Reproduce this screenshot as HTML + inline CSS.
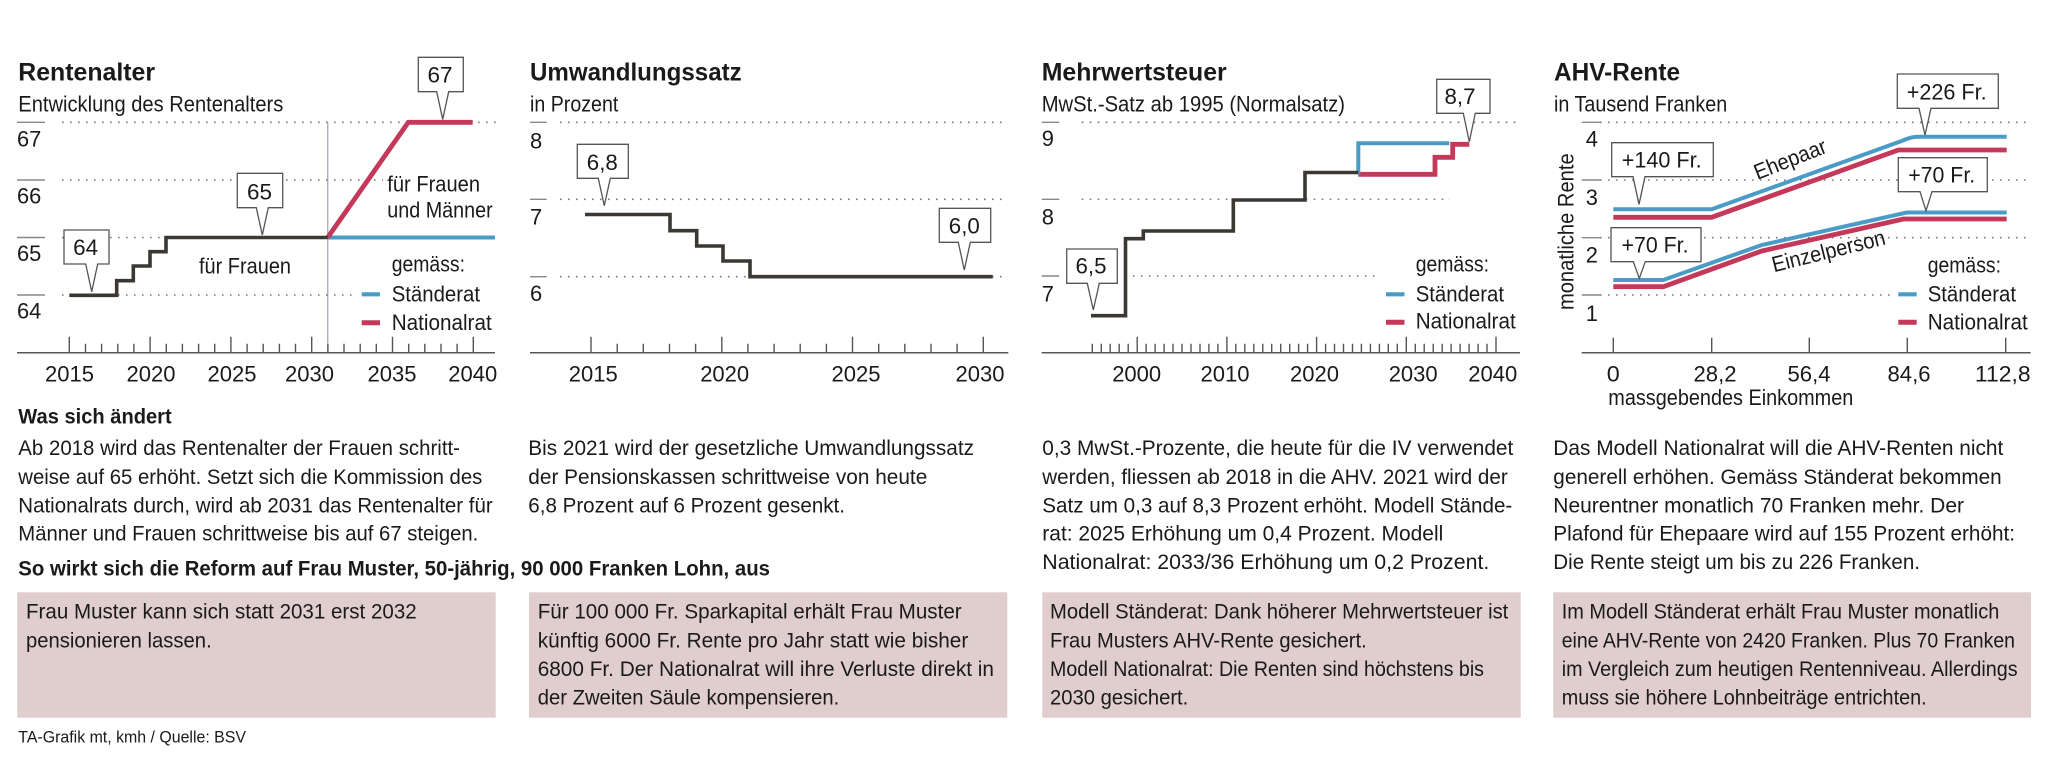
<!DOCTYPE html>
<html><head><meta charset="utf-8"><style>
html,body{margin:0;padding:0;background:#fff;}
svg{display:block;}
text{font-family:"Liberation Sans",sans-serif;fill:#1a1a1a;}
.ti{font-size:25px;font-weight:bold;}
.st{font-size:22px;}
.ax{font-size:22px;}
.cl{font-size:22px;}
.lg{font-size:22px;}
.p{font-size:21px;}
.b{font-size:21px;font-weight:bold;}
.dot{stroke:#7a7a7a;stroke-width:1.6;stroke-dasharray:1.6 6.4;fill:none;}
.yt{stroke:#888;stroke-width:1.4;}
.axl{stroke:#555;stroke-width:1.5;}
.tk{stroke:#555;stroke-width:1.4;fill:none;}
.blk{stroke:#3b3833;stroke-width:3.6;fill:none;stroke-linejoin:miter;}
.red{stroke:#c4385a;stroke-width:4.8;fill:none;}
.blu{stroke:#4a9cc7;stroke-width:4;fill:none;}
.call{fill:#fff;stroke:#555;stroke-width:1.3;}
.box{fill:#e0cdcd;}
</style></head><body>
<svg width="2048" height="764" viewBox="0 0 2048 764" xmlns="http://www.w3.org/2000/svg">
<rect width="2048" height="764" fill="#fff"/>

<!-- ===== Panel 1: Rentenalter ===== -->
<text class="ti" x="18.3" y="80.7" textLength="136.7" lengthAdjust="spacingAndGlyphs">Rentenalter</text>
<text class="st" x="18.3" y="111.7" textLength="265" lengthAdjust="spacingAndGlyphs">Entwicklung des Rentenalters</text>

<line class="yt" x1="17" y1="122.3" x2="45" y2="122.3"/>
<line class="yt" x1="17" y1="180" x2="45" y2="180"/>
<line class="yt" x1="17" y1="237.5" x2="45" y2="237.5"/>
<line class="yt" x1="17" y1="295" x2="45" y2="295"/>
<line class="dot" x1="62" y1="122.3" x2="497" y2="122.3"/>
<line class="dot" x1="62" y1="180" x2="383" y2="180"/>
<line class="dot" x1="62" y1="237.5" x2="327" y2="237.5"/>
<line class="dot" x1="62" y1="295" x2="356" y2="295"/>
<text class="ax" x="17" y="146.7" textLength="24.3" lengthAdjust="spacingAndGlyphs">67</text>
<text class="ax" x="17" y="203.7" textLength="24.3" lengthAdjust="spacingAndGlyphs">66</text>
<text class="ax" x="17" y="261" textLength="24.3" lengthAdjust="spacingAndGlyphs">65</text>
<text class="ax" x="17" y="318.3" textLength="24.3" lengthAdjust="spacingAndGlyphs">64</text>

<line x1="327.8" y1="122.3" x2="327.8" y2="352.7" stroke="#8a8f99" stroke-width="1"/>

<line class="axl" x1="17" y1="352.7" x2="495" y2="352.7"/>
<path class="tk" d="M69.3 336.7V352.7M150.1 336.7V352.7M230.9 336.7V352.7M311.7 336.7V352.7M392.5 336.7V352.7M473.3 336.7V352.7
M85.5 343.7V352.7M101.6 343.7V352.7M117.8 343.7V352.7M133.9 343.7V352.7M166.3 343.7V352.7M182.4 343.7V352.7M198.6 343.7V352.7M214.7 343.7V352.7M247.1 343.7V352.7M263.2 343.7V352.7M279.4 343.7V352.7M295.5 343.7V352.7M327.9 343.7V352.7M344 343.7V352.7M360.2 343.7V352.7M376.3 343.7V352.7M408.7 343.7V352.7M424.8 343.7V352.7M441 343.7V352.7M457.1 343.7V352.7"/>
<text class="ax" x="69.5" y="381.7" text-anchor="middle" textLength="49" lengthAdjust="spacingAndGlyphs">2015</text>
<text class="ax" x="151" y="381.7" text-anchor="middle" textLength="49" lengthAdjust="spacingAndGlyphs">2020</text>
<text class="ax" x="232" y="381.7" text-anchor="middle" textLength="49" lengthAdjust="spacingAndGlyphs">2025</text>
<text class="ax" x="309.5" y="381.7" text-anchor="middle" textLength="49" lengthAdjust="spacingAndGlyphs">2030</text>
<text class="ax" x="392" y="381.7" text-anchor="middle" textLength="49" lengthAdjust="spacingAndGlyphs">2035</text>
<text class="ax" x="472.8" y="381.7" text-anchor="middle" textLength="49" lengthAdjust="spacingAndGlyphs">2040</text>

<path class="blu" d="M327.7 237.5H495"/>
<path class="red" d="M327.7 237.5L408.3 122.3H472.7"/>
<path class="blk" d="M69.3 295.3H116.7V280.7H133.3V266H150V251.7H166V237.5H327.7"/>

<text class="lg" x="199" y="273.3" textLength="92" lengthAdjust="spacingAndGlyphs">für Frauen</text>
<text class="lg" x="387.3" y="191.7" textLength="92.7" lengthAdjust="spacingAndGlyphs">für Frauen</text>
<text class="lg" x="387.3" y="217.7" textLength="105.4" lengthAdjust="spacingAndGlyphs">und Männer</text>

<text class="lg" x="391.7" y="271.7" textLength="73.3" lengthAdjust="spacingAndGlyphs">gemäss:</text>
<line x1="361.7" y1="294.3" x2="380" y2="294.3" stroke="#4a9cc7" stroke-width="4.2"/>
<text class="lg" x="391.7" y="301.7" textLength="88.3" lengthAdjust="spacingAndGlyphs">Ständerat</text>
<line x1="361.7" y1="322.7" x2="380" y2="322.7" stroke="#c4385a" stroke-width="5"/>
<text class="lg" x="391.7" y="330" textLength="100" lengthAdjust="spacingAndGlyphs">Nationalrat</text>

<path class="call" d="M64 230H109V264H97.7L91.7 291.7L85.7 264H64Z"/>
<text class="cl" x="85.7" y="255" text-anchor="middle" textLength="25" lengthAdjust="spacingAndGlyphs">64</text>
<path class="call" d="M237.3 173.3H282.7V207.7H268.3L262.3 235L256.3 207.7H237.3Z"/>
<text class="cl" x="259.5" y="199.3" text-anchor="middle" textLength="25" lengthAdjust="spacingAndGlyphs">65</text>
<path class="call" d="M418.3 57.3H463.3V91.7H448.7L442.7 119.3L436.7 91.7H418.3Z"/>
<text class="cl" x="440" y="82.7" text-anchor="middle" textLength="25" lengthAdjust="spacingAndGlyphs">67</text>

<!-- ===== Panel 2: Umwandlungssatz ===== -->
<text class="ti" x="530" y="80.7" textLength="211.7" lengthAdjust="spacingAndGlyphs">Umwandlungssatz</text>
<text class="st" x="530" y="111.7" textLength="88.3" lengthAdjust="spacingAndGlyphs">in Prozent</text>

<line class="yt" x1="530" y1="122.3" x2="546.7" y2="122.3"/>
<line class="yt" x1="530" y1="199.3" x2="546.7" y2="199.3"/>
<line class="yt" x1="530" y1="276.7" x2="546.7" y2="276.7"/>
<line class="dot" x1="560" y1="122.3" x2="1008" y2="122.3"/>
<line class="dot" x1="560" y1="199.3" x2="1008" y2="199.3"/>
<line class="dot" x1="560" y1="276.7" x2="1008" y2="276.7"/>
<text class="ax" x="530" y="148.3" textLength="12.2" lengthAdjust="spacingAndGlyphs">8</text>
<text class="ax" x="530" y="224.3" textLength="12.2" lengthAdjust="spacingAndGlyphs">7</text>
<text class="ax" x="530" y="301" textLength="12.2" lengthAdjust="spacingAndGlyphs">6</text>

<line class="axl" x1="530" y1="352.7" x2="1008.3" y2="352.7"/>
<path class="tk" d="M591 336.7V352.7M721.8 336.7V352.7M852.5 336.7V352.7M983.3 336.7V352.7
M617.2 343.7V352.7M643.3 343.7V352.7M669.5 343.7V352.7M695.6 343.7V352.7M747.9 343.7V352.7M774.1 343.7V352.7M800.2 343.7V352.7M826.4 343.7V352.7M878.7 343.7V352.7M904.8 343.7V352.7M931 343.7V352.7M957.1 343.7V352.7"/>
<text class="ax" x="593.3" y="381.7" text-anchor="middle" textLength="49" lengthAdjust="spacingAndGlyphs">2015</text>
<text class="ax" x="724.7" y="381.7" text-anchor="middle" textLength="49" lengthAdjust="spacingAndGlyphs">2020</text>
<text class="ax" x="856" y="381.7" text-anchor="middle" textLength="49" lengthAdjust="spacingAndGlyphs">2025</text>
<text class="ax" x="980" y="381.7" text-anchor="middle" textLength="49" lengthAdjust="spacingAndGlyphs">2030</text>

<path class="blk" d="M585 214.5H670V230.7H696.7V246H723V261H750V276.7H992.7"/>

<path class="call" d="M577.3 144.3H628.3V178.3H610.3L604.3 205.7L598.3 178.3H577.3Z"/>
<text class="cl" x="602.3" y="170" text-anchor="middle" textLength="31" lengthAdjust="spacingAndGlyphs">6,8</text>
<path class="call" d="M939.3 208.3H990.7V242.3H970.3L964.3 270L958.3 242.3H939.3Z"/>
<text class="cl" x="964.3" y="233.3" text-anchor="middle" textLength="31" lengthAdjust="spacingAndGlyphs">6,0</text>

<!-- ===== Panel 3: Mehrwertsteuer ===== -->
<text class="ti" x="1041.7" y="80.7" textLength="185" lengthAdjust="spacingAndGlyphs">Mehrwertsteuer</text>
<text class="st" x="1041.7" y="111.7" textLength="303.3" lengthAdjust="spacingAndGlyphs">MwSt.-Satz ab 1995 (Normalsatz)</text>

<line class="yt" x1="1041.7" y1="122.3" x2="1059.3" y2="122.3"/>
<line class="yt" x1="1041.7" y1="199.3" x2="1059.3" y2="199.3"/>
<line class="yt" x1="1041.7" y1="276" x2="1059.3" y2="276"/>
<line class="dot" x1="1081.7" y1="122.3" x2="1520" y2="122.3"/>
<line class="dot" x1="1081.7" y1="199.3" x2="1450" y2="199.3"/>
<line class="dot" x1="1133" y1="276" x2="1378" y2="276"/>
<text class="ax" x="1041.7" y="146" textLength="12.2" lengthAdjust="spacingAndGlyphs">9</text>
<text class="ax" x="1041.7" y="224.3" textLength="12.2" lengthAdjust="spacingAndGlyphs">8</text>
<text class="ax" x="1041.7" y="301.7" textLength="12.2" lengthAdjust="spacingAndGlyphs">7</text>

<line class="axl" x1="1041.7" y1="352.7" x2="1520" y2="352.7"/>
<path class="tk" d="M1137.2 336.7V352.7M1226.9 336.7V352.7M1316.6 336.7V352.7M1406.3 336.7V352.7M1496 336.7V352.7
M1092.3 343.7V352.7M1101.3 343.7V352.7M1110.2 343.7V352.7M1119.2 343.7V352.7M1128.2 343.7V352.7M1146.1 343.7V352.7M1155.1 343.7V352.7M1164.1 343.7V352.7M1173 343.7V352.7M1182 343.7V352.7M1191 343.7V352.7M1200 343.7V352.7M1208.9 343.7V352.7M1217.9 343.7V352.7M1235.8 343.7V352.7M1244.8 343.7V352.7M1253.8 343.7V352.7M1262.8 343.7V352.7M1271.7 343.7V352.7M1280.7 343.7V352.7M1289.7 343.7V352.7M1298.6 343.7V352.7M1307.6 343.7V352.7M1325.6 343.7V352.7M1334.5 343.7V352.7M1343.5 343.7V352.7M1352.5 343.7V352.7M1361.4 343.7V352.7M1370.4 343.7V352.7M1379.4 343.7V352.7M1388.3 343.7V352.7M1397.3 343.7V352.7M1415.3 343.7V352.7M1424.2 343.7V352.7M1433.2 343.7V352.7M1442.2 343.7V352.7M1451.1 343.7V352.7M1460.1 343.7V352.7M1469.1 343.7V352.7M1478.1 343.7V352.7M1487 343.7V352.7"/>
<text class="ax" x="1136.7" y="381.7" text-anchor="middle" textLength="49" lengthAdjust="spacingAndGlyphs">2000</text>
<text class="ax" x="1225" y="381.7" text-anchor="middle" textLength="49" lengthAdjust="spacingAndGlyphs">2010</text>
<text class="ax" x="1314.5" y="381.7" text-anchor="middle" textLength="49" lengthAdjust="spacingAndGlyphs">2020</text>
<text class="ax" x="1413.2" y="381.7" text-anchor="middle" textLength="49" lengthAdjust="spacingAndGlyphs">2030</text>
<text class="ax" x="1492.8" y="381.7" text-anchor="middle" textLength="49" lengthAdjust="spacingAndGlyphs">2040</text>

<path class="red" d="M1358.3 174.3H1435V157.3H1452.7V144.3H1469.3"/>
<path class="blu" d="M1358.3 174.3V143.3H1449.3"/>
<path class="blk" d="M1091 315.7H1125.5V238.7H1143.3V231H1233.3V200H1305V172.5H1358.3"/>

<text class="lg" x="1415.7" y="271.7" textLength="73.3" lengthAdjust="spacingAndGlyphs">gemäss:</text>
<line x1="1386" y1="294.3" x2="1404.5" y2="294.3" stroke="#4a9cc7" stroke-width="4.2"/>
<text class="lg" x="1415.7" y="301.7" textLength="88.3" lengthAdjust="spacingAndGlyphs">Ständerat</text>
<line x1="1386" y1="322.3" x2="1404.5" y2="322.3" stroke="#c4385a" stroke-width="5"/>
<text class="lg" x="1415.7" y="328.7" textLength="100" lengthAdjust="spacingAndGlyphs">Nationalrat</text>

<path class="call" d="M1066.7 249H1117.3V283.3H1099.3L1093.3 310L1087.3 283.3H1066.7Z"/>
<text class="cl" x="1091" y="273.3" text-anchor="middle" textLength="31" lengthAdjust="spacingAndGlyphs">6,5</text>
<path class="call" d="M1436.7 79.3H1490V113.3H1475.3L1469.3 141.7L1463.3 113.3H1436.7Z"/>
<text class="cl" x="1460" y="104" text-anchor="middle" textLength="31" lengthAdjust="spacingAndGlyphs">8,7</text>

<!-- ===== Panel 4: AHV-Rente ===== -->
<text class="ti" x="1554" y="80.7" textLength="126" lengthAdjust="spacingAndGlyphs">AHV-Rente</text>
<text class="st" x="1554" y="111.7" textLength="173.3" lengthAdjust="spacingAndGlyphs">in Tausend Franken</text>

<line class="yt" x1="1581.7" y1="122.3" x2="1600" y2="122.3"/>
<line class="yt" x1="1581.7" y1="180" x2="1600" y2="180"/>
<line class="yt" x1="1581.7" y1="237.7" x2="1600" y2="237.7"/>
<line class="yt" x1="1581.7" y1="295" x2="1600" y2="295"/>
<line class="dot" x1="1600" y1="122.3" x2="2031.7" y2="122.3"/>
<line class="dot" x1="1600" y1="180" x2="2031.7" y2="180"/>
<line class="dot" x1="1600" y1="237.7" x2="2031.7" y2="237.7"/>
<line class="dot" x1="1600" y1="295" x2="1893" y2="295"/>
<text class="ax" x="1585.7" y="146.7" textLength="12.2" lengthAdjust="spacingAndGlyphs">4</text>
<text class="ax" x="1585.7" y="205" textLength="12.2" lengthAdjust="spacingAndGlyphs">3</text>
<text class="ax" x="1585.7" y="262.7" textLength="12.2" lengthAdjust="spacingAndGlyphs">2</text>
<text class="ax" x="1585.7" y="321" textLength="12.2" lengthAdjust="spacingAndGlyphs">1</text>
<text class="ax" transform="translate(1573.3,231.7) rotate(-90)" text-anchor="middle" textLength="156.7" lengthAdjust="spacingAndGlyphs">monatliche Rente</text>

<line class="axl" x1="1581.7" y1="352.7" x2="2030.7" y2="352.7"/>
<path class="tk" d="M1613.3 337.7V352.7M1711.7 337.7V352.7M1809.3 337.7V352.7M1907.3 337.7V352.7M2005.7 337.7V352.7"/>
<text class="ax" x="1613.3" y="381.7" text-anchor="middle" textLength="13" lengthAdjust="spacingAndGlyphs">0</text>
<text class="ax" x="1715" y="381.7" text-anchor="middle" textLength="43" lengthAdjust="spacingAndGlyphs">28,2</text>
<text class="ax" x="1809" y="381.7" text-anchor="middle" textLength="43" lengthAdjust="spacingAndGlyphs">56,4</text>
<text class="ax" x="1909" y="381.7" text-anchor="middle" textLength="43" lengthAdjust="spacingAndGlyphs">84,6</text>
<text class="ax" x="2002.8" y="381.7" text-anchor="middle" textLength="55.7" lengthAdjust="spacingAndGlyphs">112,8</text>
<text class="ax" x="1608.3" y="405" textLength="245" lengthAdjust="spacingAndGlyphs">massgebendes Einkommen</text>

<path class="red" stroke-width="4.6" d="M1613.3 217.3H1711.7L1898.3 150H2006.7"/>
<path class="blu" stroke-width="4.4" d="M1613.3 209.3H1711.7L1903 140.5Q1910 137 1918 136.7H2006.7"/>
<path class="red" stroke-width="4.6" d="M1613.3 286.7H1663.3L1761.7 251L1903.3 219H2006.7"/>
<path class="blu" stroke-width="4.4" d="M1613.3 280H1663.3L1761.7 245L1906.7 212.5H2006.7"/>

<text class="lg" transform="translate(1757.5,180) rotate(-21.5)" textLength="76" lengthAdjust="spacingAndGlyphs">Ehepaar</text>
<text class="lg" transform="translate(1774,272.3) rotate(-14)" textLength="116" lengthAdjust="spacingAndGlyphs">Einzelperson</text>

<text class="lg" x="1927.7" y="272.3" textLength="73.3" lengthAdjust="spacingAndGlyphs">gemäss:</text>
<line x1="1898.3" y1="294.3" x2="1916.7" y2="294.3" stroke="#4a9cc7" stroke-width="4.2"/>
<text class="lg" x="1927.7" y="301.7" textLength="88.3" lengthAdjust="spacingAndGlyphs">Ständerat</text>
<line x1="1898.3" y1="322.3" x2="1916.7" y2="322.3" stroke="#c4385a" stroke-width="5"/>
<text class="lg" x="1927.7" y="329.3" textLength="100" lengthAdjust="spacingAndGlyphs">Nationalrat</text>

<path class="call" d="M1611.7 142.7H1713.3V176.7H1645L1639 204.3L1633 176.7H1611.7Z"/>
<text class="cl" x="1661.7" y="167.7" text-anchor="middle" textLength="80" lengthAdjust="spacingAndGlyphs">+140 Fr.</text>
<path class="call" d="M1897.3 74H1998.3V108.3H1931L1925 135L1919 108.3H1897.3Z"/>
<text class="cl" x="1946.7" y="99.3" text-anchor="middle" textLength="80" lengthAdjust="spacingAndGlyphs">+226 Fr.</text>
<path class="call" d="M1898.3 157.7H1987.3V191.7H1932L1926 210.7L1920 191.7H1898.3Z"/>
<text class="cl" x="1941.7" y="182.7" text-anchor="middle" textLength="67" lengthAdjust="spacingAndGlyphs">+70 Fr.</text>
<path class="call" d="M1611 227.7H1701V261.7H1645.3L1639.3 278.3L1633.3 261.7H1611Z"/>
<text class="cl" x="1655" y="252.3" text-anchor="middle" textLength="67" lengthAdjust="spacingAndGlyphs">+70 Fr.</text>

<!-- ===== Bottom text ===== -->
<text class="b" x="18.3" y="423.3" textLength="153.4" lengthAdjust="spacingAndGlyphs">Was sich ändert</text>

<text class="p" x="18.3" y="455" textLength="441.7" lengthAdjust="spacingAndGlyphs">Ab 2018 wird das Rentenalter der Frauen schritt-</text>
<text class="p" x="18.3" y="484" textLength="464" lengthAdjust="spacingAndGlyphs">weise auf 65 erhöht. Setzt sich die Kommission des</text>
<text class="p" x="18.3" y="512.3" textLength="474.4" lengthAdjust="spacingAndGlyphs">Nationalrats durch, wird ab 2031 das Rentenalter für</text>
<text class="p" x="18.3" y="540.7" textLength="460" lengthAdjust="spacingAndGlyphs">Männer und Frauen schrittweise bis auf 67 steigen.</text>

<text class="p" x="528.3" y="455" textLength="445.7" lengthAdjust="spacingAndGlyphs">Bis 2021 wird der gesetzliche Umwandlungssatz</text>
<text class="p" x="528.3" y="484" textLength="399" lengthAdjust="spacingAndGlyphs">der Pensionskassen schrittweise von heute</text>
<text class="p" x="528.3" y="512.3" textLength="316.7" lengthAdjust="spacingAndGlyphs">6,8 Prozent auf 6 Prozent gesenkt.</text>

<text class="p" x="1042.3" y="455" textLength="471" lengthAdjust="spacingAndGlyphs">0,3 MwSt.-Prozente, die heute für die IV verwendet</text>
<text class="p" x="1042.3" y="484" textLength="465.4" lengthAdjust="spacingAndGlyphs">werden, fliessen ab 2018 in die AHV. 2021 wird der</text>
<text class="p" x="1042.3" y="512.3" textLength="470" lengthAdjust="spacingAndGlyphs">Satz um 0,3 auf 8,3 Prozent erhöht. Modell Stände-</text>
<text class="p" x="1042.3" y="540.7" textLength="401" lengthAdjust="spacingAndGlyphs">rat: 2025 Erhöhung um 0,4 Prozent. Modell</text>
<text class="p" x="1042.3" y="569" textLength="447" lengthAdjust="spacingAndGlyphs">Nationalrat: 2033/36 Erhöhung um 0,2 Prozent.</text>

<text class="p" x="1553.3" y="455" textLength="450" lengthAdjust="spacingAndGlyphs">Das Modell Nationalrat will die AHV-Renten nicht</text>
<text class="p" x="1553.3" y="484" textLength="448.4" lengthAdjust="spacingAndGlyphs">generell erhöhen. Gemäss Ständerat bekommen</text>
<text class="p" x="1553.3" y="512.3" textLength="410.7" lengthAdjust="spacingAndGlyphs">Neurentner monatlich 70 Franken mehr. Der</text>
<text class="p" x="1553.3" y="540.7" textLength="461.7" lengthAdjust="spacingAndGlyphs">Plafond für Ehepaare wird auf 155 Prozent erhöht:</text>
<text class="p" x="1553.3" y="569" textLength="366.7" lengthAdjust="spacingAndGlyphs">Die Rente steigt um bis zu 226 Franken.</text>

<text class="b" x="18.3" y="575.7" textLength="751.7" lengthAdjust="spacingAndGlyphs">So wirkt sich die Reform auf Frau Muster, 50-jährig, 90 000 Franken Lohn, aus</text>

<rect class="box" x="17.3" y="592.3" width="478.4" height="125.4"/>
<rect class="box" x="529" y="592.3" width="478.3" height="125.4"/>
<rect class="box" x="1042.3" y="592.3" width="478.4" height="125.4"/>
<rect class="box" x="1553.3" y="592.3" width="477.7" height="125.4"/>

<text class="p" x="26" y="618.3" textLength="390.7" lengthAdjust="spacingAndGlyphs">Frau Muster kann sich statt 2031 erst 2032</text>
<text class="p" x="26" y="647.3" textLength="185.7" lengthAdjust="spacingAndGlyphs">pensionieren lassen.</text>

<text class="p" x="537.7" y="618.3" textLength="424" lengthAdjust="spacingAndGlyphs">Für 100 000 Fr. Sparkapital erhält Frau Muster</text>
<text class="p" x="537.7" y="647.3" textLength="430.6" lengthAdjust="spacingAndGlyphs">künftig 6000 Fr. Rente pro Jahr statt wie bisher</text>
<text class="p" x="537.7" y="676" textLength="456.3" lengthAdjust="spacingAndGlyphs">6800 Fr. Der Nationalrat will ihre Verluste direkt in</text>
<text class="p" x="537.7" y="704.3" textLength="301.6" lengthAdjust="spacingAndGlyphs">der Zweiten Säule kompensieren.</text>

<text class="p" x="1050" y="618.3" textLength="458.3" lengthAdjust="spacingAndGlyphs">Modell Ständerat: Dank höherer Mehrwertsteuer ist</text>
<text class="p" x="1050" y="647.3" textLength="316.7" lengthAdjust="spacingAndGlyphs">Frau Musters AHV-Rente gesichert.</text>
<text class="p" x="1050" y="676" textLength="434" lengthAdjust="spacingAndGlyphs">Modell Nationalrat: Die Renten sind höchstens bis</text>
<text class="p" x="1050" y="704.3" textLength="138.3" lengthAdjust="spacingAndGlyphs">2030 gesichert.</text>

<text class="p" x="1561.7" y="618.3" textLength="437.6" lengthAdjust="spacingAndGlyphs">Im Modell Ständerat erhält Frau Muster monatlich</text>
<text class="p" x="1561.7" y="647.3" textLength="453.3" lengthAdjust="spacingAndGlyphs">eine AHV-Rente von 2420 Franken. Plus 70 Franken</text>
<text class="p" x="1561.7" y="676" textLength="456" lengthAdjust="spacingAndGlyphs">im Vergleich zum heutigen Rentenniveau. Allerdings</text>
<text class="p" x="1561.7" y="704.3" textLength="365" lengthAdjust="spacingAndGlyphs">muss sie höhere Lohnbeiträge entrichten.</text>

<text x="18.3" y="742.3" style="font-size:16.5px" textLength="227.7" lengthAdjust="spacingAndGlyphs">TA-Grafik mt, kmh / Quelle: BSV</text>
</svg>
</body></html>
